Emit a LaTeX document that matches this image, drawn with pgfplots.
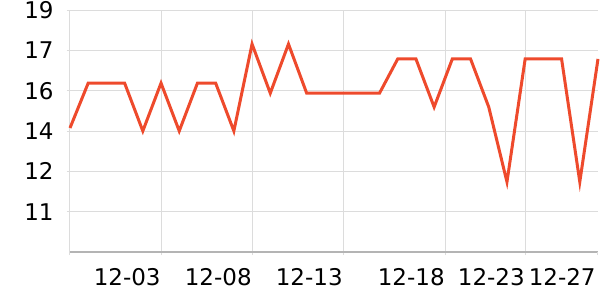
\documentclass[border=0pt]{standalone}
\usepackage{fontspec}
\setmainfont{DejaVu Sans}
\usepackage{pgfplots}
\pgfplotsset{compat=1.18}
\definecolor{linec}{HTML}{EE4A2C}
\definecolor{gridc}{HTML}{DCDCDC}
\definecolor{axisc}{HTML}{B4B4B4}
\begin{document}
\fontsize{11.5pt}{13pt}\selectfont
\begin{tikzpicture}
\begin{axis}[
  scale only axis,
  width=264pt, height=121pt,
  xmin=0, xmax=29,
  ymin=9.3, ymax=18.9,
  clip=false,
  axis x line*=bottom, axis y line*=left,
  x axis line style={draw=axisc, line width=0.6pt},
  y axis line style={draw=gridc, line width=0.5pt},
  xtick={0,5,10,15,20.6,25},
  xticklabels={,12-03,12-08,12-13,12-18,12-23},
  extra x ticks={29},
  extra x tick labels={12-27},
  extra x tick style={grid=none, tick style={draw=none}, xticklabel style={xshift=-1pt}},
  ytick={10.9,12.5,14.1,15.7,17.3,18.9},
  yticklabels={11,12,14,16,17,19},
  xmajorgrids, ymajorgrids,
  grid style={draw=gridc, line width=0.5pt},
  tick align=outside,
  major tick length=1.5pt,
  xtick style={draw=gridc, line width=0.5pt},
  ytick style={draw=gridc, line width=0.5pt},
  xticklabel style={anchor=north east, inner xsep=0pt, inner ysep=0pt, yshift=-6.5pt, font=\fontsize{11.5pt}{13pt}\selectfont},
  yticklabel style={anchor=east, inner xsep=0pt, inner ysep=0pt, xshift=-6.5pt, font=\fontsize{11.5pt}{13pt}\selectfont},
]
\addplot[linec, line width=1.5pt, line join=miter, mark=none] coordinates {
(0,14.22) (1,16.0) (2,16.0) (3,16.0) (4,14.1) (5,16.0) (6,14.1) (7,16.0) (8,16.0) (9,14.1)
(10,17.55) (11,15.6) (12,17.55) (13,15.6) (14,15.6) (15,15.6) (16,15.6) (17,15.6) (18,16.96) (19,16.96)
(20,15.05) (21,16.96) (22,16.96) (23,15.05) (24,12.08) (25,16.96) (26,16.96) (27,16.96) (28,12.08) (29,16.96)
};
\path (rel axis cs:0,0) ++(-35pt,-24pt) coordinate (bbsw);
\path (rel axis cs:1,1) ++(1pt,5pt) coordinate (bbne);
\end{axis}
\path[use as bounding box] (bbsw) rectangle (bbne);
\end{tikzpicture}
\end{document}
